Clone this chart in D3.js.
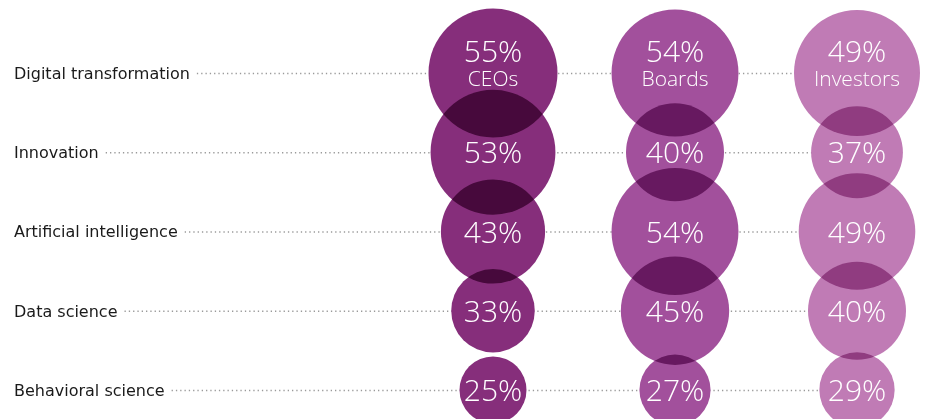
<!DOCTYPE html>
<html>
<head>
<meta charset="utf-8">
<script src="https://cdn.jsdelivr.net/npm/d3@7"></script>
<style>
  body { margin: 0; background: #fff; }
  #chart { width: 926px; height: 419px; }
  .rowlabel { font-family: "DejaVu Sans", sans-serif; font-size: 16px; fill: #1a1a1a; }
  .leader { stroke: #9a9a9a; stroke-width: 1.5; stroke-dasharray: 1.3 3; fill: none; }
  .pct { font-family: "Open Sans", "Lato", sans-serif; font-weight: 300; fill: #fff; }
</style>
</head>
<body>
<div id="chart"></div>
<script>
var topics = ["Digital transformation", "Innovation", "Artificial intelligence", "Data science", "Behavioral science"];
var groups = ["CEOs", "Boards", "Investors"];
var ceos = [55, 53, 43, 33, 25];
var boards = [54, 40, 54, 45, 27];
var investors = [49, 37, 49, 40, 29];
var colours = ["#862e7b", "#a2509c", "#c07bb5"];

function drawBubbles () {
    var width = 926,
        height = 419;

    var svg = d3.select("#chart").append("svg")
        .attr("width", width)
        .attr("height", height);

    var yl = d3.scalePoint()
        .domain(topics)
        .range([73, 390]);
    var xl = d3.scalePoint()
        .domain(groups)
        .range([493, 857]);
    var rl = d3.scaleLinear()
        .domain([25, 55])
        .range([33.5, 64.5]);
    var headerMinR = 63;  // top circles are big enough to hold the group name

    var cells = [];
    [ceos, boards, investors].forEach(function(vals, gi) {
        vals.forEach(function(v, ti) {
            cells.push({group: groups[gi], topic: topics[ti], gi: gi, ti: ti, v: v});
        });
    });
    function radius(d) {
        return d.ti == 0 ? Math.max(rl(d.v), headerMinR) : rl(d.v);
    }

    // row labels + dotted leaders
    var rows = svg.append("g");
    rows.selectAll(".rowlabel")
        .data(topics)
        .enter()
            .append("text").attr("class", "rowlabel")
            .attr("x", 14)
            .attr("y", function(d) { return yl(d); })
            .attr("dy", "0.36em")
            .text(function(d) { return d; })
            .each(function(d) { d3.select(this).datum({t: d, w: this.getComputedTextLength()}); });

    rows.selectAll(".rowlabel").each(function(d) {
        rows.append("line").attr("class", "leader")
            .attr("x1", 14 + d.w + 7)
            .attr("x2", xl(groups[groups.length - 1]))
            .attr("y1", yl(d.t) + 0.5)
            .attr("y2", yl(d.t) + 0.5);
    });

    // circles, multiplied over each other where they overlap
    var bubbles = svg.append("g").style("isolation", "isolate");
    bubbles.selectAll("circle")
        .data(cells)
        .enter()
            .append("circle")
            .attr("cx", function(d) { return xl(d.group); })
            .attr("cy", function(d) { return yl(d.topic); })
            .attr("r", radius)
            .attr("fill", function(d) { return colours[d.gi]; })
            .style("mix-blend-mode", "multiply");

    var labels = svg.append("g");
    labels.selectAll(".pct")
        .data(cells)
        .enter()
            .append("text").attr("class", "pct")
            .attr("text-anchor", "middle")
            .attr("x", function(d) { return xl(d.group); })
            .attr("y", function(d) { return d.ti == 0 ? yl(d.topic) - 11 : yl(d.topic) + 11; })
            .attr("font-size", "30px")
            .text(function(d) { return d.v + "%"; });

    labels.selectAll(".grp")
        .data(groups)
        .enter()
            .append("text").attr("class", "pct grp")
            .attr("text-anchor", "middle")
            .attr("x", function(d) { return xl(d); })
            .attr("y", yl(topics[0]) + 13)
            .attr("font-size", "21px")
            .text(function(d) { return d; });
}

drawBubbles();
</script>
</body>
</html>
